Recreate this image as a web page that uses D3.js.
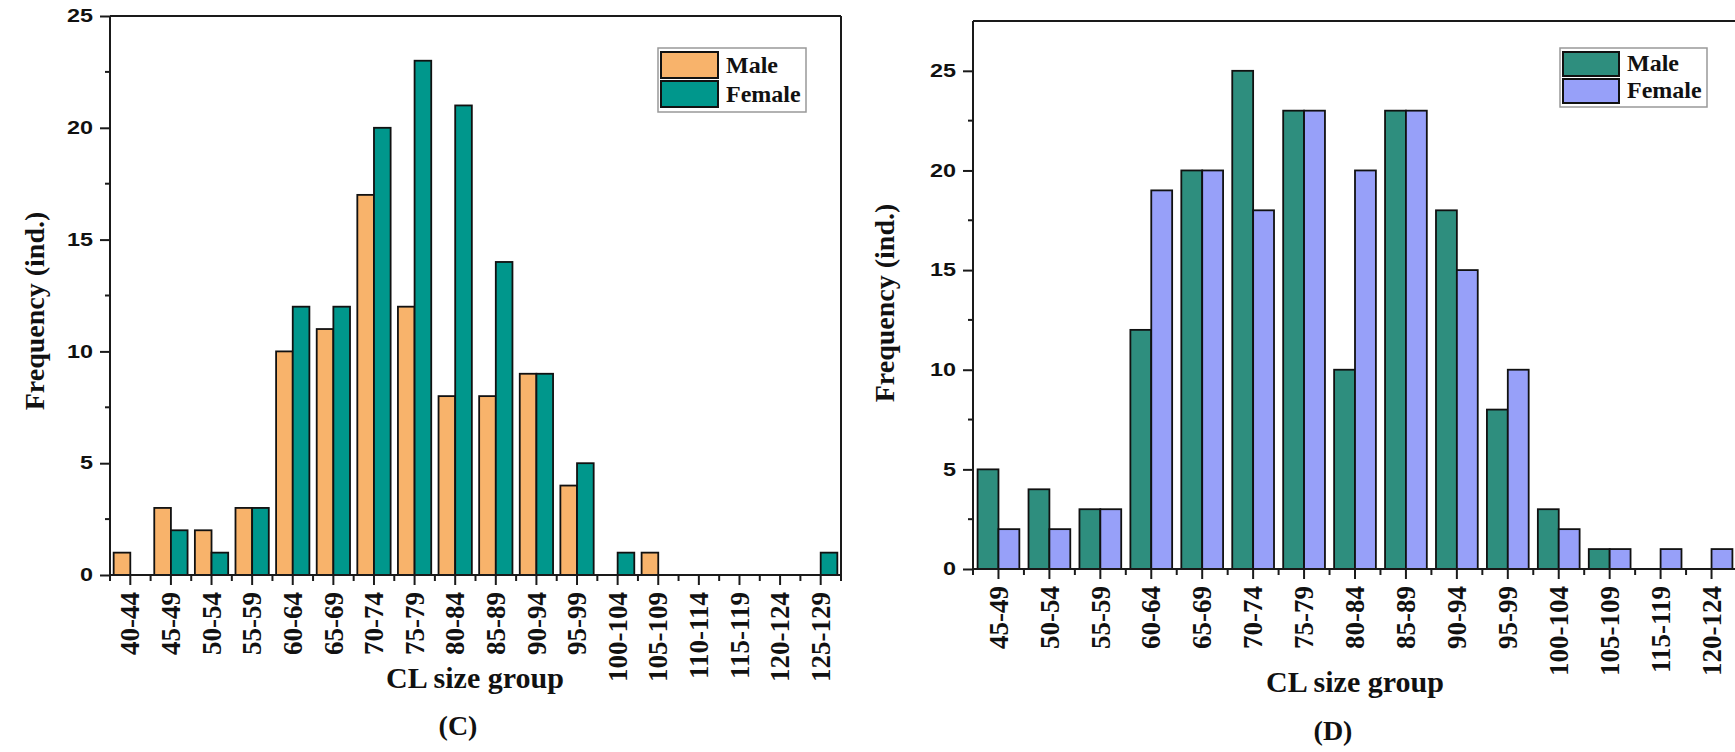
<!DOCTYPE html>
<html>
<head>
<meta charset="utf-8">
<script src="https://cdn.jsdelivr.net/npm/d3@7"></script>
<style>
  html, body { margin: 0; padding: 0; background: #ffffff; }
  svg { display: block; }
</style>
</head>
<body>
<svg id="chart" width="1735" height="752"></svg>
<script>
// ---- Data: panel (C) ----
const leftCategories = ["40-44","45-49","50-54","55-59","60-64","65-69","70-74","75-79","80-84","85-89","90-94","95-99","100-104","105-109","110-114","115-119","120-124","125-129"];
const leftMale   = [1, 3, 2, 3, 10, 11, 17, 12, 8, 8, 9, 4, 0, 1, 0, 0, 0, 0];
const leftFemale = [0, 2, 1, 3, 12, 12, 20, 23, 21, 14, 9, 5, 1, 0, 0, 0, 0, 1];
const leftYTicks = [0, 5, 10, 15, 20, 25];

// ---- Data: panel (D) ----
const rightCategories = ["45-49","50-54","55-59","60-64","65-69","70-74","75-79","80-84","85-89","90-94","95-99","100-104","105-109","115-119","120-124"];
const rightMale   = [5, 4, 3, 12, 20, 25, 23, 10, 23, 18, 8, 3, 1, 0, 0];
const rightFemale = [2, 2, 3, 19, 20, 18, 23, 20, 23, 15, 10, 2, 1, 1, 1];
const rightYTicks = [0, 5, 10, 15, 20, 25];

const seriesNames = ["Male", "Female"];

const svg = d3.select("#chart");
const SERIF = "'Liberation Serif', 'Times New Roman', serif";
const SANS = "'Liberation Sans', Arial, sans-serif";
const AXIS = "#1a1a1a";

function drawPanel(cfg) {
  const g = svg.append("g");
  const x = d3.scaleBand().domain(cfg.categories).range([cfg.x0, cfg.x1]).padding(0);
  const y = d3.scaleLinear().domain(cfg.yDomain).range([cfg.yBottom, cfg.yTop]);
  const bw = x.step() * 0.41;

  // bars
  const rows = cfg.categories.map((c, i) => ({c, m: cfg.male[i], f: cfg.female[i]}));
  g.selectAll("rect.male").data(rows.filter(d => d.m > 0)).join("rect")
    .attr("x", d => x(d.c) + x.bandwidth() / 2 - bw)
    .attr("y", d => y(d.m))
    .attr("width", bw)
    .attr("height", d => y(0) - y(d.m))
    .attr("fill", cfg.colors[0]).attr("stroke", "#111").attr("stroke-width", 1.8);
  g.selectAll("rect.female").data(rows.filter(d => d.f > 0)).join("rect")
    .attr("x", d => x(d.c) + x.bandwidth() / 2)
    .attr("y", d => y(d.f))
    .attr("width", bw)
    .attr("height", d => y(0) - y(d.f))
    .attr("fill", cfg.colors[1]).attr("stroke", "#111").attr("stroke-width", 1.8);

  // frame top & right
  g.append("line").attr("x1", cfg.x0).attr("x2", cfg.x1).attr("y1", cfg.yTop).attr("y2", cfg.yTop)
    .attr("stroke", AXIS).attr("stroke-width", 2);
  g.append("line").attr("x1", cfg.x1).attr("x2", cfg.x1).attr("y1", cfg.yTop).attr("y2", cfg.yBottom)
    .attr("stroke", AXIS).attr("stroke-width", 2);

  // y axis
  const ya = g.append("g").attr("transform", `translate(${cfg.x0},0)`)
    .call(d3.axisLeft(y).tickValues(cfg.yTicks).tickSize(10).tickPadding(7).tickSizeOuter(0));
  ya.select(".domain").attr("stroke", AXIS).attr("stroke-width", 2)
    .attr("d", `M0,${cfg.yTop}V${cfg.yBottom}`);
  ya.selectAll(".tick line").attr("stroke", AXIS).attr("stroke-width", 2);
  ya.selectAll(".tick text")
    .attr("font-family", SANS).attr("font-weight", "bold").attr("font-size", 18)
    .attr("fill", "#111")
    .attr("x", -17 / 1.3)
    .attr("transform", "scale(1.3,1)");
  // minor y ticks
  const minors = d3.range(cfg.yTicks.length - 1).map(i => (cfg.yTicks[i] + cfg.yTicks[i + 1]) / 2);
  g.selectAll("line.ymin").data(minors).join("line")
    .attr("x1", cfg.x0 - 5).attr("x2", cfg.x0).attr("y1", d => y(d)).attr("y2", d => y(d))
    .attr("stroke", AXIS).attr("stroke-width", 2);

  // x axis
  const xa = g.append("g").attr("transform", `translate(0,${cfg.yBottom})`)
    .call(d3.axisBottom(x).tickSize(10).tickSizeOuter(0));
  xa.select(".domain").attr("stroke", AXIS).attr("stroke-width", 2)
    .attr("d", `M${cfg.x0},0H${cfg.x1}`);
  xa.selectAll(".tick line").attr("stroke", AXIS).attr("stroke-width", 2);
  xa.selectAll(".tick text")
    .attr("font-family", SERIF).attr("font-weight", "bold").attr("font-size", 27)
    .attr("fill", "#111")
    .attr("transform", "rotate(-90)")
    .attr("text-anchor", "end")
    .attr("x", -17).attr("y", 0).attr("dy", "0.34em");
  // minor x ticks at band boundaries
  const bounds = d3.range(cfg.categories.length + 1).map(i => cfg.x0 + i * x.step());
  g.selectAll("line.xmin").data(bounds).join("line")
    .attr("x1", d => d).attr("x2", d => d)
    .attr("y1", cfg.yBottom).attr("y2", cfg.yBottom + 6)
    .attr("stroke", AXIS).attr("stroke-width", 2);

  // axis titles
  g.append("text")
    .attr("transform", `translate(${cfg.yTitleX},${cfg.yTitleY}) rotate(-90)`)
    .attr("text-anchor", "middle")
    .attr("font-family", SERIF).attr("font-weight", "bold").attr("font-size", 28).attr("fill", "#111")
    .text("Frequency (ind.)");
  g.append("text")
    .attr("x", cfg.xTitleX).attr("y", cfg.xTitleY)
    .attr("text-anchor", "middle")
    .attr("font-family", SERIF).attr("font-weight", "bold").attr("font-size", 30).attr("fill", "#111")
    .text("CL size group");
  g.append("text")
    .attr("x", cfg.tagX).attr("y", cfg.tagY)
    .attr("text-anchor", "middle")
    .attr("font-family", SERIF).attr("font-weight", "bold").attr("font-size", 28).attr("fill", "#111")
    .text(cfg.tag);

  // legend
  const L = cfg.legend;
  g.append("rect").attr("x", L.x).attr("y", L.y).attr("width", L.w).attr("height", L.h)
    .attr("fill", "#fff").attr("stroke", "#999").attr("stroke-width", 1.5);
  seriesNames.forEach((name, i) => {
    g.append("rect")
      .attr("x", L.x + 3).attr("y", L.y + 4 + i * L.rowH)
      .attr("width", L.sw).attr("height", L.rowH - 3)
      .attr("fill", cfg.colors[i]).attr("stroke", "#111").attr("stroke-width", 2);
    g.append("text")
      .attr("x", L.x + 3 + L.sw + 8).attr("y", L.y + 4 + i * L.rowH + L.rowH - 8)
      .attr("font-family", SERIF).attr("font-weight", "bold").attr("font-size", 24).attr("fill", "#111")
      .text(name);
  });
}

drawPanel({
  categories: leftCategories, male: leftMale, female: leftFemale, yTicks: leftYTicks,
  yDomain: [0, 25], x0: 110, x1: 841, yTop: 16, yBottom: 575,
  colors: ["#F8B36B", "#00978C"],
  yTitleX: 44, yTitleY: 311, xTitleX: 475, xTitleY: 688,
  tag: "(C)", tagX: 458, tagY: 735,
  legend: {x: 658, y: 48, w: 148, h: 64, sw: 57, rowH: 29}
});

drawPanel({
  categories: rightCategories, male: rightMale, female: rightFemale, yTicks: rightYTicks,
  yDomain: [0, 27.5], x0: 973, x1: 1737, yTop: 21, yBottom: 569,
  colors: ["#2E8E7E", "#97A0F9"],
  yTitleX: 894, yTitleY: 303, xTitleX: 1355, xTitleY: 692,
  tag: "(D)", tagX: 1333, tagY: 740,
  legend: {x: 1560, y: 48, w: 147, h: 59, sw: 56, rowH: 27}
});
</script>
</body>
</html>
